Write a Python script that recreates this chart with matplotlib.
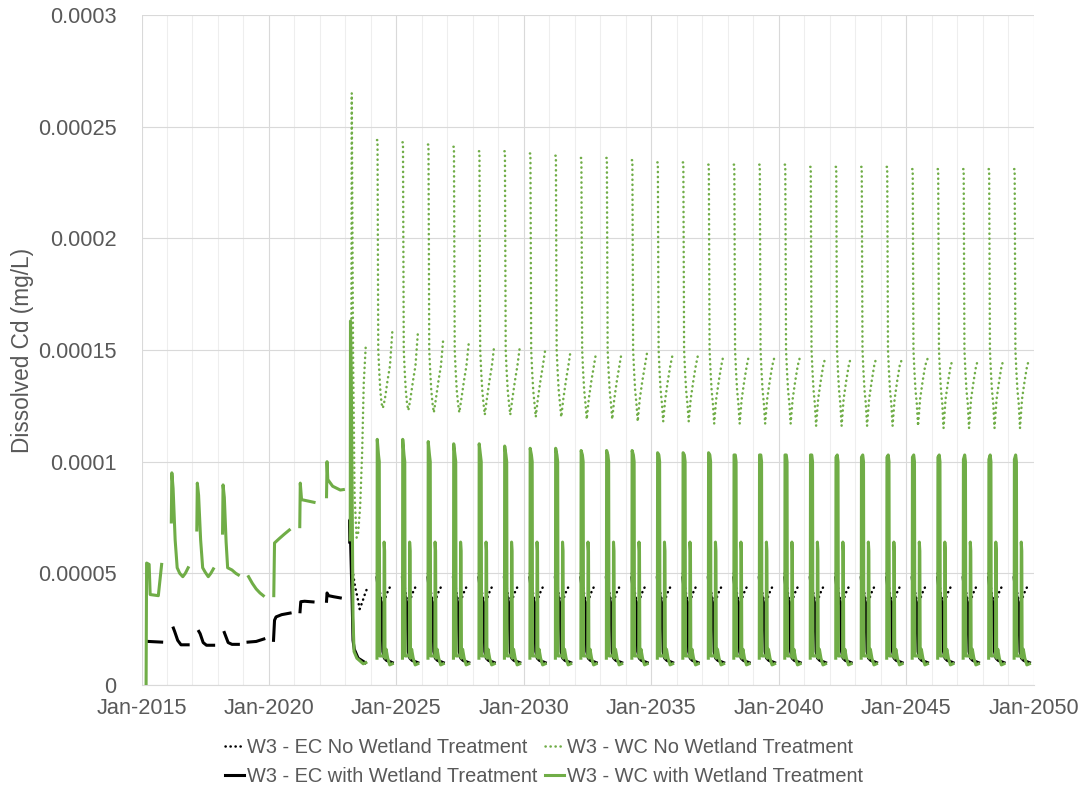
import numpy as np
import matplotlib
matplotlib.use("Agg")
import matplotlib.pyplot as plt
from matplotlib.lines import Line2D

plt.rcParams['font.family'] = ['Liberation Sans', 'DejaVu Sans']

GREEN = '#70AD47'
BLACK = '#000000'
TEXT = '#595959'
GRID_MAJOR = '#d9d9d9'
GRID_MINOR = '#eeeeee'

# ---------------------------------------------------------------------------
# Pre-treatment open-water seasons 2015-2022 (decimal year, dissolved Cd mg/L)
# ---------------------------------------------------------------------------
wc_pre_t = [
    [2015.18, 2015.20, 2015.30, 2015.34, 2015.66, 2015.79],
    [2016.17, 2016.19, 2016.24, 2016.32, 2016.40, 2016.50, 2016.62, 2016.72, 2016.83],
    [2017.17, 2017.19, 2017.24, 2017.32, 2017.40, 2017.50, 2017.62, 2017.72, 2017.82],
    [2018.18, 2018.20, 2018.25, 2018.32, 2018.38, 2018.55, 2018.70, 2018.80],
    [2019.20, 2019.35, 2019.50, 2019.65, 2019.78],
    [2020.19, 2020.22, 2020.40, 2020.60, 2020.80],
    [2021.21, 2021.23, 2021.28, 2021.45, 2021.77],
    [2022.26, 2022.28, 2022.31, 2022.50, 2022.80, 2022.92],
]
wc_pre_v = [
    [0.0, 0.0000546, 0.0000540, 0.0000405, 0.0000400, 0.0000540],
    [0.0000730, 0.0000950, 0.0000880, 0.0000650, 0.0000525, 0.0000500, 0.0000485, 0.0000500, 0.0000525],
    [0.0000694, 0.0000904, 0.0000850, 0.0000650, 0.0000525, 0.0000505, 0.0000485, 0.0000500, 0.0000520],
    [0.0000680, 0.0000896, 0.0000840, 0.0000640, 0.0000525, 0.0000515, 0.0000500, 0.0000493],
    [0.0000485, 0.0000455, 0.0000430, 0.0000412, 0.0000400],
    [0.0000400, 0.0000636, 0.0000655, 0.0000675, 0.0000694],
    [0.0000709, 0.0000904, 0.0000830, 0.0000826, 0.0000818],
    [0.0000843, 0.0001000, 0.0000920, 0.0000890, 0.0000873, 0.0000875],
]

ec_pre_t = [
    [2015.27, 2015.79],
    [2016.25, 2016.30, 2016.42, 2016.55, 2016.83],
    [2017.25, 2017.30, 2017.42, 2017.55, 2017.83],
    [2018.25, 2018.30, 2018.40, 2018.55, 2018.80],
    [2019.18, 2019.50, 2019.80],
    [2020.18, 2020.22, 2020.28, 2020.50, 2020.83],
    [2021.22, 2021.25, 2021.40, 2021.73],
    [2022.26, 2022.28, 2022.34, 2022.55, 2022.80],
]
ec_pre_v = [
    [0.0000195, 0.0000192],
    [0.0000255, 0.0000240, 0.0000200, 0.0000180, 0.0000180],
    [0.0000240, 0.0000230, 0.0000190, 0.0000178, 0.0000178],
    [0.0000235, 0.0000220, 0.0000190, 0.0000182, 0.0000182],
    [0.0000192, 0.0000195, 0.0000206],
    [0.0000200, 0.0000290, 0.0000305, 0.0000315, 0.0000322],
    [0.0000328, 0.0000373, 0.0000375, 0.0000372],
    [0.0000375, 0.0000412, 0.0000400, 0.0000395, 0.0000390],
]

# ---------------------------------------------------------------------------
# First season after the change in 2023
# ---------------------------------------------------------------------------
wc_no_2023_t = [2023.22, 2023.25, 2023.30, 2023.36, 2023.44, 2023.50, 2023.58, 2023.66, 2023.72, 2023.80]
wc_no_2023_v = [0.0000700, 0.000265, 0.000150, 0.0000850, 0.0000660, 0.0000680, 0.0000800, 0.000105, 0.000135, 0.000152]
ec_no_2023_t = [2023.20, 2023.24, 2023.30, 2023.38, 2023.46, 2023.56, 2023.66, 2023.76, 2023.86]
ec_no_2023_v = [0.0000740, 0.0000600, 0.0000500, 0.0000440, 0.0000400, 0.0000340, 0.0000370, 0.0000405, 0.0000435]
wc_with_2023_t = [2023.19, 2023.20, 2023.23, 2023.27, 2023.30, 2023.34, 2023.45, 2023.55, 2023.70, 2023.80]
wc_with_2023_v = [0.0000650, 0.000163, 0.000140, 0.0000800, 0.0000300, 0.0000150, 0.0000120, 0.0000110, 0.0000095, 0.0000100]
ec_with_2023_t = [2023.17, 2023.18, 2023.20, 2023.26, 2023.30, 2023.35, 2023.50, 2023.78]
ec_with_2023_v = [0.0000640, 0.0000740, 0.0000660, 0.0000400, 0.0000200, 0.0000160, 0.0000120, 0.0000100]

# ---------------------------------------------------------------------------
# Seasons 2024-2049: timing within each year and season values
# ---------------------------------------------------------------------------
years_post = list(range(2024, 2050))

wc_no_peak = [0.000244, 0.000243, 0.000242, 0.000241, 0.000239, 0.000239, 0.000238,
              0.000237, 0.000236, 0.000236, 0.000235, 0.000234, 0.000234, 0.000233,
              0.000233, 0.000233, 0.000233, 0.000232, 0.000232, 0.000232, 0.000232,
              0.000231, 0.000231, 0.000231, 0.000231, 0.000231]
wc_no_low = [0.000124, 0.000123, 0.000122, 0.000122, 0.000121, 0.000121, 0.000120,
             0.000120, 0.000119, 0.000119, 0.000118, 0.000118, 0.000118, 0.000117,
             0.000117, 0.000117, 0.000117, 0.000116, 0.000116, 0.000116, 0.000116,
             0.000116, 0.000115, 0.000115, 0.000115, 0.000115]
wc_no_end = [0.000158, 0.000157, 0.000155, 0.000153, 0.000152, 0.000151, 0.000150,
             0.000150, 0.000149, 0.000149, 0.000149, 0.000148, 0.000148, 0.000148,
             0.000148, 0.000147, 0.000147, 0.000147, 0.000147, 0.000147, 0.000146,
             0.000146, 0.000146, 0.000146, 0.000146, 0.000146]
wc_with_peak = [0.000110, 0.000110, 0.000109, 0.000108, 0.000108, 0.000107, 0.000106,
                0.000106, 0.000105, 0.000105, 0.000105, 0.000104, 0.000104, 0.000104,
                0.000103, 0.000103, 0.000103, 0.000103, 0.000102, 0.000102, 0.000102,
                0.000102, 0.000102, 0.000101, 0.000101, 0.000101]

wc_no_day = [0.24, 0.26, 0.29, 0.33, 0.37, 0.42, 0.47, 0.55, 0.65, 0.75, 0.84]
wc_no_mid = [0.000150, 0.000140, 0.000132, 0.000126]          # falling limb
wc_no_rise = [0.000128, 0.000136, 0.000143]                   # rising limb

wc_with_day = [0.24, 0.25, 0.30, 0.33, 0.345, 0.51, 0.52, 0.54, 0.555, 0.60, 0.66, 0.74, 0.84]
wc_with_tail = [0.000103, 0.000100, 0.000013, 0.000013, 0.000064, 0.000060,
                0.000012, 0.000016, 0.000012, 0.000009, 0.0000095]

ec_with_day = [0.24, 0.30, 0.40, 0.435, 0.445, 0.47, 0.53, 0.62, 0.84]
ec_with_vals = [0.000048, 0.000042, 0.000037, 0.000036, 0.000025, 0.000015, 0.000012, 0.000011, 0.000010]

ec_no_day = [0.24, 0.30, 0.38, 0.46, 0.57, 0.63, 0.71, 0.80]
ec_no_vals = [0.000050, 0.000046, 0.000040, 0.000036, 0.000039, 0.000041, 0.000043, 0.000045]


def join(seg_t, seg_v):
    xs, ys = [], []
    for t, v in zip(seg_t, seg_v):
        xs += list(t) + [np.nan]
        ys += list(v) + [np.nan]
    return np.array(xs, dtype=float), np.array(ys, dtype=float)


def seasons(days, values_per_year):
    seg_t = [[yr + d for d in days] for yr in years_post]
    return seg_t, values_per_year


# WC, no wetland treatment
wc_no_vals = [[wc_no_peak[i], wc_no_peak[i]] + wc_no_mid + [wc_no_low[i]] + wc_no_rise + [wc_no_end[i]]
              for i in range(len(years_post))]
t_s, v_s = seasons(wc_no_day, wc_no_vals)
wc_no_x, wc_no_y = join([wc_no_2023_t] + t_s, [wc_no_2023_v] + v_s)

# WC, with wetland treatment
wc_with_vals = [[0.000012, wc_with_peak[i]] + wc_with_tail for i in range(len(years_post))]
t_s, v_s = seasons(wc_with_day, wc_with_vals)
wc_with_x, wc_with_y = join(wc_pre_t + [wc_with_2023_t] + t_s, wc_pre_v + [wc_with_2023_v] + v_s)

# EC, no wetland treatment
t_s, v_s = seasons(ec_no_day, [ec_no_vals] * len(years_post))
ec_no_x, ec_no_y = join([ec_no_2023_t] + t_s, [ec_no_2023_v] + v_s)

# EC, with wetland treatment
t_s, v_s = seasons(ec_with_day, [ec_with_vals] * len(years_post))
ec_with_x, ec_with_y = join(ec_pre_t + [ec_with_2023_t] + t_s, ec_pre_v + [ec_with_2023_v] + v_s)

# ---------------------------------------------------------------------------
# Figure
# ---------------------------------------------------------------------------
W, H = 1088, 794
fig = plt.figure(figsize=(W / 100, H / 100), dpi=100)
ax = fig.add_axes([141.5 / W, 1 - 685 / H, (1033.5 - 141.5) / W, 670 / H])

dotted = dict(linestyle=(0, (0.1, 1.9)), dash_capstyle='round', linewidth=1.8)
solid = dict(linestyle='-', linewidth=2.2, solid_joinstyle='round')

ax.plot(ec_no_x, ec_no_y, color=BLACK, zorder=3, **dotted)
ax.plot(wc_no_x, wc_no_y, color=GREEN, zorder=4, **dotted)
ax.plot(ec_with_x, ec_with_y, color=BLACK, zorder=5, **solid)
ax.plot(wc_with_x, wc_with_y, color=GREEN, zorder=6, **solid)

x_ticks = [2015, 2020, 2025, 2030, 2035, 2040, 2045, 2050]
x_labels = ['Jan-2015', 'Jan-2020', 'Jan-2025', 'Jan-2030', 'Jan-2035', 'Jan-2040', 'Jan-2045', 'Jan-2050']
y_ticks = [0, 0.00005, 0.0001, 0.00015, 0.0002, 0.00025, 0.0003]
y_labels = ['0', '0.00005', '0.0001', '0.00015', '0.0002', '0.00025', '0.0003']

ax.set_xlim(2015, 2050)
ax.set_ylim(0, 0.0003)
ax.set_xticks(x_ticks)
ax.set_xticklabels(x_labels)
ax.set_xticks(range(2015, 2051), minor=True)
ax.set_yticks(y_ticks)
ax.set_yticklabels(y_labels)

ax.tick_params(axis='both', which='both', length=0, colors=TEXT, labelsize=15.7)
ax.tick_params(axis='y', pad=18)
ax.tick_params(axis='x', pad=9)

ax.grid(axis='x', which='minor', color=GRID_MINOR, linewidth=0.8, zorder=0)
ax.grid(axis='x', which='major', color=GRID_MAJOR, linewidth=0.8, zorder=0)
ax.grid(axis='y', which='major', color=GRID_MAJOR, linewidth=0.8, zorder=0)
ax.set_axisbelow(True)

for side in ['top', 'right', 'left']:
    ax.spines[side].set_visible(False)
ax.spines['bottom'].set_color(GRID_MAJOR)
ax.spines['bottom'].set_linewidth(0.8)

ax.set_ylabel('Dissolved Cd (mg/L)', color=TEXT, fontsize=16.3, labelpad=3)

# two rows: "No Wetland" entries on top, "with Wetland" entries below
labels = ['W3 - EC No Wetland Treatment', 'W3 - EC with Wetland Treatment',
          'W3 - WC No Wetland Treatment', 'W3 - WC with Wetland Treatment']
handles = [
    Line2D([], [], color=BLACK, **dotted),
    Line2D([], [], color=BLACK, **solid),
    Line2D([], [], color=GREEN, **dotted),
    Line2D([], [], color=GREEN, **solid),
]
leg = fig.legend(handles, labels, ncol=2, loc='upper center',
                 bbox_to_anchor=(0.5, 1 - 738 / H), frameon=False, fontsize=14.4,
                 handlelength=0.95, handletextpad=0.12, columnspacing=0.4,
                 labelspacing=0.5, borderpad=0, borderaxespad=0)
for txt in leg.get_texts():
    txt.set_color(TEXT)

fig.savefig('out.png', dpi=100, facecolor='white')
